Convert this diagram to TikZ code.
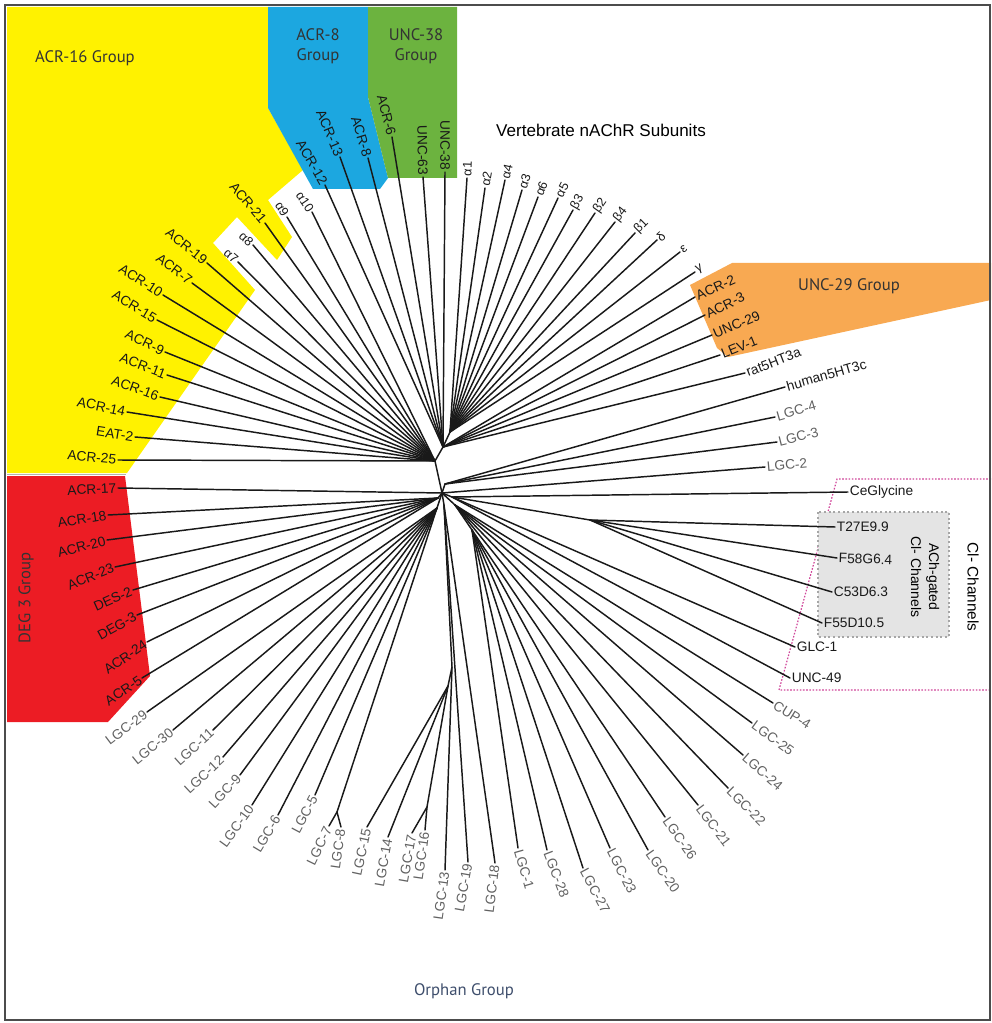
\documentclass[tikz,border=0pt]{standalone}
\usepackage{fontspec}
\setmainfont{Liberation Sans}
\newfontfamily\grpfont{PT Sans}
\usetikzlibrary{calc}

\definecolor{grpyellow}{HTML}{FFF200}
\definecolor{grpblue}{HTML}{1CA7E0}
\definecolor{grpgreen}{HTML}{6CB33F}
\definecolor{grporange}{HTML}{F8A952}
\definecolor{grpred}{HTML}{EC1C24}
\definecolor{achgray}{HTML}{E4E4E4}
\definecolor{clpink}{HTML}{D0469A}
\definecolor{orphanblue}{HTML}{3E4E6C}

\tikzset{
  branch/.style={line width=1.1pt, black!90, line cap=round},
  lbl/.style={font=\fontsize{10.3}{12}\selectfont, inner sep=1.2pt, text=black!90},
  lgc/.style={text=black!62},
  greek/.style={font=\fontsize{9.5}{11}\selectfont},
  grouplbl/.style={font=\grpfont\fontsize{12.5}{15}\selectfont, text=black!80, align=center},
}

% \leaf[style]{parent}{name}{x,y}{angle}{anchor}{text}
\newcommand\leaf[7][]{%
  \coordinate (#3) at (#4);
  \draw[branch] (#2) -- (#3);
  \node[lbl,#1,rotate=#5,anchor=#6] (t-#3) at (#3) {#7};
}

\begin{document}
\begin{tikzpicture}[x=0.75pt,y=-0.75pt]
\useasboundingbox (0,0) rectangle (991,1023);

% ---- coloured group areas ----
\fill[grpyellow] (7,7) -- (268,7) -- (268,108) -- (303,170) -- (268,200) -- (292,237)
  -- (277,260) -- (237,217) -- (213,243) -- (255,290) -- (127,473) -- (7,473) -- cycle;
\fill[grpblue] (268,7) -- (368,7) -- (368,97) -- (388,178) -- (380,189) -- (313,189) -- (268,108) -- cycle;
\fill[grpgreen] (368,7) -- (457,7) -- (457,178) -- (388,178) -- (368,97) -- cycle;
\fill[grporange] (690,285) -- (732,263) -- (991,263) -- (991,300) -- (728,357) -- (717,348) -- cycle;
\fill[grpred] (7,476) -- (125,476) -- (150,676) -- (108,722) -- (7,722) -- cycle;
\draw[gray!60, line width=1.2pt] (7,474.5) -- (126,474.5);

% chloride channel boxes
\draw[clpink, line width=0.9pt, dash pattern=on 1.2pt off 1.2pt] (991,479) -- (837,479) -- (779,690) -- (991,690);
\filldraw[fill=achgray, draw=gray!70, line width=1.3pt, dash pattern=on 1.5pt off 2pt] (818,512) rectangle (949,637);

% frame
\draw[black!70, line width=0.8pt] (5,5) rectangle (990,1020);

% ---- inner nodes of the tree ----
\coordinate (R) at (442,493);
\coordinate (B) at (435,461);
\coordinate (C) at (443,447);
\coordinate (V) at (450,432);
\coordinate (E) at (445,484);
\coordinate (Q) at (452,497);
\coordinate (H) at (590,520);
\coordinate (P) at (455,505);
\coordinate (P2) at (472,530);
\coordinate (R2) at (444,505);
\coordinate (N1) at (452,667);
\coordinate (N2) at (448,686);
\coordinate (N3) at (427,807);
\coordinate (L) at (437,508);
\coordinate (F78) at (337,812);
\coordinate (D) at (438,498);

\draw[branch] (R) -- (B) -- (C) -- (V);
\draw[branch] (R) -- (E);
\draw[branch] (R) -- (Q) -- (H);
\draw[branch] (R) -- (P) -- (P2);
\draw[branch] (R) -- (R2) -- (N1) -- (N2) -- (N3);
\draw[branch] (R) -- (L) -- (F78);
\draw[branch] (R) -- (D);

% ---- ACR-16 group and alpha7-10 ----
\leaf{B}{acr25}{118,460}{-6}{east}{ACR-25}
\leaf{B}{eat2}{135,437}{-9}{east}{EAT-2}
\leaf{B}{acr14}{127,412}{-12}{east}{ACR-14}
\leaf{B}{acr16}{160,397}{-20}{east}{ACR-16}
\leaf{B}{acr11}{167,375}{-21}{east}{ACR-11}
\leaf{B}{acr9}{165,352}{-26}{east}{ACR-9}
\leaf{B}{acr15}{157,320}{-31}{east}{ACR-15}
\leaf{B}{acr10}{163,295}{-33}{east}{ACR-10}
\leaf{B}{acr7}{192,283}{-38}{east}{ACR-7}
\leaf{B}{acr19}{207,263}{-39}{east}{ACR-19}
\leaf[greek]{B}{a7}{238,262}{-40}{east}{α7}
\leaf[greek]{B}{a8}{253,245}{-42}{east}{α8}
\leaf{B}{acr21}{265,223}{-50}{east}{ACR-21}
\leaf[greek]{B}{a9}{287,217}{-57}{east}{α9}
\leaf[greek]{B}{a10}{312,212}{-56}{east}{α10}

% ---- ACR-8 and UNC-38 groups ----
\leaf{C}{acr12}{325,185}{-60}{east}{ACR-12}
\leaf{C}{acr13}{340,157}{-67}{east}{ACR-13}
\leaf{C}{acr8}{368,158}{-73}{east}{ACR-8}
\leaf{C}{acr6}{392,137}{-76}{east}{ACR-6}
\leaf{C}{unc63}{423,177}{-89}{east}{UNC-63}
\leaf{C}{unc38}{445,172}{-90}{east}{UNC-38}

% ---- vertebrate nAChR subunits ----
\leaf[greek]{V}{va1}{467,178}{88}{west}{α1}
\leaf[greek]{V}{va2}{485,188}{80}{west}{α2}
\leaf[greek]{V}{va4}{505,180}{77}{west}{α4}
\leaf[greek]{V}{va3}{522,190}{72}{west}{α3}
\leaf[greek]{V}{va6}{538,197}{68}{west}{α6}
\leaf[greek]{V}{va5}{558,198}{63}{west}{α5}
\leaf[greek]{V}{vb3}{573,210}{60}{west}{β3}
\leaf[greek]{V}{vb2}{595,213}{55}{west}{β2}
\leaf[greek]{V}{vb4}{615,222}{52}{west}{β4}
\leaf[greek]{V}{vb1}{635,233}{45}{west}{β1}
\leaf[greek]{V}{vd}{657,240}{42}{west}{δ}
\leaf[greek]{V}{ve}{680,252}{35}{west}{ε}
\leaf[greek]{V}{vg}{695,272}{28}{west}{γ}

% ---- UNC-29 group and 5-HT3 ----
\leaf{C}{acr2}{695,297}{24}{west}{ACR-2}
\leaf{C}{acr3}{705,315}{26}{west}{ACR-3}
\leaf{C}{unc29}{712,335}{23}{west}{UNC-29}
\leaf{C}{lev1}{720,355}{22}{west}{LEV-1}
\leaf{C}{rat5}{745,373}{21}{west}{rat5HT3a}
\leaf{E}{hum5}{785,387}{16}{west}{human5HT3c}
\leaf[lgc]{E}{lgc4}{775,417}{16}{west}{LGC-4}
\leaf[lgc]{E}{lgc3}{777,442}{14}{west}{LGC-3}
\leaf[lgc]{R}{lgc2}{765,467}{5}{west}{LGC-2}

% ---- chloride channels ----
\leaf{Q}{cegly}{848,492}{0}{west}{CeGlycine}
\leaf{H}{t27}{835,527}{0}{west}{T27E9.9}
\leaf{H}{f58}{837,558}{-2}{west}{F58G6.4}
\leaf{H}{c53}{832,592}{0}{west}{C53D6.3}
\leaf{H}{f55}{822,623}{0}{west}{F55D10.5}
\leaf{Q}{glc1}{795,647}{0}{west}{GLC-1}
\leaf{Q}{unc49}{790,678}{0}{west}{UNC-49}

% ---- orphan LGCs, right ----
\leaf[lgc]{P}{cup4}{773,703}{-32}{west}{CUP-4}
\leaf[lgc]{P}{lgc25}{752,723}{-36}{west}{LGC-25}
\leaf[lgc]{P}{lgc24}{743,755}{-41}{west}{LGC-24}
\leaf[lgc]{P}{lgc22}{728,788}{-45}{west}{LGC-22}
\leaf[lgc]{P}{lgc21}{698,805}{-53}{west}{LGC-21}
\leaf[lgc]{P2}{lgc26}{665,817}{-55}{west}{LGC-26}
\leaf[lgc]{P2}{lgc20}{648,850}{-55}{west}{LGC-20}
\leaf[lgc]{P2}{lgc23}{610,848}{-63}{west}{LGC-23}
\leaf[lgc]{P2}{lgc27}{583,868}{-62}{west}{LGC-27}
\leaf[lgc]{P2}{lgc28}{547,850}{-69}{west}{LGC-28}
\leaf[lgc]{P2}{lgc1}{518,848}{-74}{west}{LGC-1}

% ---- orphan LGCs, bottom ----
\leaf[lgc]{R2}{lgc18}{495,863}{83}{east}{LGC-18}
\leaf[lgc]{R2}{lgc19}{468,862}{80}{east}{LGC-19}
\leaf[lgc]{N1}{lgc13}{445,870}{82}{east}{LGC-13}
\leaf[lgc]{N3}{lgc16}{425,830}{82}{east}{LGC-16}
\leaf[lgc]{N3}{lgc17}{412,833}{80}{east}{LGC-17}
\leaf[lgc]{N2}{lgc14}{388,837}{80}{east}{LGC-14}
\leaf[lgc]{N2}{lgc15}{367,827}{78}{east}{LGC-15}
\leaf[lgc]{F78}{lgc8}{341,827}{82}{east}{LGC-8}
\leaf[lgc]{F78}{lgc7}{329,826}{64}{east}{LGC-7}
\leaf[lgc]{L}{lgc5}{315,795}{62}{east}{LGC-5}
\leaf[lgc]{L}{lgc6}{278,815}{59}{east}{LGC-6}
\leaf[lgc]{L}{lgc10}{252,805}{54}{east}{LGC-10}
\leaf[lgc]{L}{lgc9}{240,775}{47}{east}{LGC-9}
\leaf[lgc]{L}{lgc12}{223,757}{43}{east}{LGC-12}
\leaf[lgc]{L}{lgc11}{213,730}{42}{east}{LGC-11}
\leaf[lgc]{L}{lgc30}{173,730}{39}{east}{LGC-30}
\leaf[lgc]{L}{lgc29}{147,712}{37}{east}{LGC-29}

% ---- DEG-3 group ----
\leaf{R}{acr17}{118,488}{3}{east}{ACR-17}
\leaf{D}{acr18}{108,515}{9}{east}{ACR-18}
\leaf{D}{acr20}{107,540}{15}{east}{ACR-20}
\leaf{D}{acr23}{115,567}{22}{east}{ACR-23}
\leaf{D}{des2}{133,590}{24}{east}{DES-2}
\leaf{D}{deg3}{137,615}{29}{east}{DEG-3}
\leaf{D}{acr24}{147,642}{35}{east}{ACR-24}
\leaf{D}{acr5}{142,678}{34}{east}{ACR-5}

% ---- group captions ----
\node[grouplbl] (g16) at (85,58) {ACR-16 Group};
\node[grouplbl] (g8) at (318,46) {ACR-8\\Group};
\node[grouplbl] (g38) at (416,46) {UNC-38\\Group};
\node[font=\fontsize{12.8}{15}\selectfont] (gv) at (601,130) {Vertebrate nAChR Subunits};
\node[grouplbl] (g29) at (849,286) {UNC-29 Group};
\node[grouplbl, rotate=90] (gdeg) at (26,598) {DEG 3 Group};
\node[grouplbl, text=orphanblue] (gorph) at (464,991) {Orphan Group};
\node[font=\fontsize{11.5}{14}\selectfont, rotate=-90] (gcl) at (973,587) {Cl- Channels};
\node[font=\fontsize{10.5}{13.5}\selectfont, rotate=-90, align=center] (gach) at (925,577) {ACh-gated\\Cl- Channels};
\end{tikzpicture}
\end{document}
